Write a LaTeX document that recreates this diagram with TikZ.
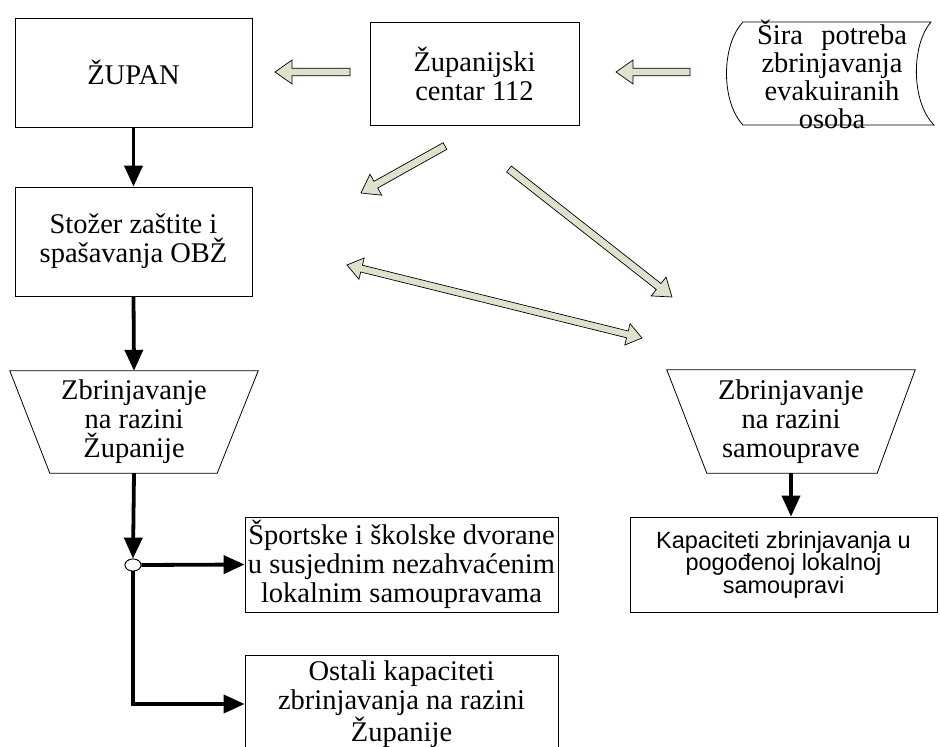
\documentclass[tikz,border=0pt]{standalone}
\usepackage{fontspec}
\setmainfont{Liberation Serif}
\newfontfamily\sansfam{Liberation Sans}
\usetikzlibrary{calc,arrows.meta,shapes.geometric}
\definecolor{arrowfill}{RGB}{221,226,204}
\tikzset{
  base/.style={font=\fontsize{28.5}{29}\selectfont, align=center, inner sep=0pt},
  box/.style={base, draw, line width=0.8pt, rectangle},
  outline/.style={draw, line width=0.8pt},
  flow/.style={line width=3.8pt, -{Triangle[length=21pt,width=18pt]}},
  blockarrow/.style={draw=black, line width=0.7pt, fill=arrowfill, line join=miter},
}
% hollow block arrow from tail #1 to tip #2
\newcommand\blockarrow[2]{%
  \draw[blockarrow] let \p1=(#1), \p2=(#2),
      \n1={atan2(\y2-\y1,\x2-\x1)},
      \n2={veclen(\x2-\x1,\y2-\y1)-17} in
    ($(\p1)+(\n1+90:3.8pt)$) --
    ($(\p1)+(\n1:\n2)+(\n1+90:3.8pt)$) --
    ($(\p1)+(\n1:\n2)+(\n1+90:12pt)$) --
    (\p2) --
    ($(\p1)+(\n1:\n2)+(\n1-90:12pt)$) --
    ($(\p1)+(\n1:\n2)+(\n1-90:3.8pt)$) --
    ($(\p1)+(\n1-90:3.8pt)$) -- cycle;}
% hollow block arrow with heads at both ends
\newcommand\dblblockarrow[2]{%
  \draw[blockarrow] let \p1=(#1), \p2=(#2),
      \n1={atan2(\y2-\y1,\x2-\x1)},
      \n2={veclen(\x2-\x1,\y2-\y1)-15} in
    (\p1) --
    ($(\p1)+(\n1:15pt)+(\n1+90:11pt)$) --
    ($(\p1)+(\n1:15pt)+(\n1+90:3.5pt)$) --
    ($(\p1)+(\n1:\n2)+(\n1+90:3.5pt)$) --
    ($(\p1)+(\n1:\n2)+(\n1+90:11pt)$) --
    (\p2) --
    ($(\p1)+(\n1:\n2)+(\n1-90:11pt)$) --
    ($(\p1)+(\n1:\n2)+(\n1-90:3.5pt)$) --
    ($(\p1)+(\n1:15pt)+(\n1-90:3.5pt)$) --
    ($(\p1)+(\n1:15pt)+(\n1-90:11pt)$) -- cycle;}

\begin{document}
\begin{tikzpicture}[x=1pt,y=-1pt]
\fill[white] (0,0) rectangle (940,747);
\useasboundingbox (0,0) rectangle (940,747);

% top row
\node[box, minimum width=237pt, minimum height=109pt] (zupan) at (133.5,72.5) {ŽUPAN};
\node[box, minimum width=209pt, minimum height=103pt] (centar) at (474.5,73.5) {Županijski\\centar 112};

% stored-data symbol
\draw[outline] (743,22) -- (931,22) .. controls (911,45) and (911,102) .. (934,125)
  -- (743,125) .. controls (721,102) and (721,45) .. (743,22) -- cycle;
\node[base, font=\fontsize{28.5}{28}\selectfont] (sira) at (832,74)
  {Šira\hskip0.65em potreba\\zbrinjavanja\\evakuiranih\\osoba};

% left column
\node[box, minimum width=237pt, minimum height=109pt] (stozer) at (133.5,241.5)
  {Stožer zaštite i\\spašavanja OBŽ};
\node[base, minimum width=248pt, minimum height=102pt] (tzl) at (134,422)
  {Zbrinjavanje\\na razini\\Županije};
\draw[outline] (tzl.north west) -- (tzl.north east) -- ($(tzl.south east)+(-41,0)$)
  -- ($(tzl.south west)+(40,0)$) -- cycle;

\node[ellipse, draw, line width=0.8pt, fill=white, minimum width=16pt,
  minimum height=12pt, inner sep=0pt] (junc) at (133,565) {};

\node[box, minimum width=313pt, minimum height=95pt] (sport) at (401.5,564.5)
  {Športske i školske dvorane\\u susjednim nezahvaćenim\\lokalnim samoupravama};
\node[box, minimum width=313pt, minimum height=98pt] (ostali) at (401.5,704)
  {Ostali kapaciteti\\zbrinjavanja na razini\\Županije};

% right column
\node[base, minimum width=248pt, minimum height=103pt] (tzr) at (791,421.5)
  {Zbrinjavanje\\na razini\\samouprave};
\draw[outline] (tzr.north west) -- (tzr.north east) -- ($(tzr.south east)+(-38,0)$)
  -- ($(tzr.south west)+(40,0)$) -- cycle;
\node[box, font=\sansfam\fontsize{23.5}{22.5}\selectfont, minimum width=307pt,
  minimum height=95pt] (kap) at (783.5,564.5)
  {Kapaciteti zbrinjavanja u\\pogođenoj lokalnoj\\samoupravi};

% solid flow connectors
\draw[flow] (zupan.south) -- (stozer.north);
\draw[flow] (stozer.south) -- (tzl.north);
\draw[flow] (tzl.south) -- (junc.north);
\draw[flow] (junc.east) -- (sport.west);
\draw[flow] (junc.south) |- (ostali.west);
\draw[flow] (tzr.south) -- (tzr.south |- kap.north);
\node[ellipse, draw, line width=0.8pt, fill=white, minimum width=16pt,
  minimum height=12pt, inner sep=0pt] at (junc) {};

% block arrow end points
\coordinate (a1t) at (350,72);  \coordinate (a1h) at (275,72);
\coordinate (a2t) at (690,72);  \coordinate (a2h) at (616,72);
\coordinate (a3t) at (445,146); \coordinate (a3h) at (361,193);
\coordinate (a4t) at (509,169); \coordinate (a4h) at (672,297);
\coordinate (a5l) at (347,265); \coordinate (a5r) at (642,338);

\blockarrow{a1t}{a1h}
\blockarrow{a2t}{a2h}
\blockarrow{a3t}{a3h}
\blockarrow{a4t}{a4h}
\dblblockarrow{a5l}{a5r}
\end{tikzpicture}
\end{document}
